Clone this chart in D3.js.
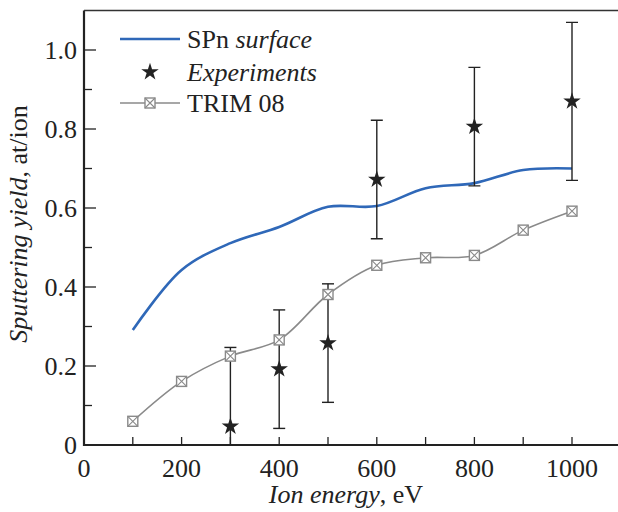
<!DOCTYPE html>
<html>
<head>
<meta charset="utf-8">
<script src="https://cdn.jsdelivr.net/npm/d3@7"></script>
<style>
  body { margin: 0; background: #fff; }
  svg { display: block; }
  text { font-family: "Liberation Serif", "Times New Roman", Times, "DejaVu Serif", serif; }
</style>
</head>
<body>
<div id="main"></div>
<script>
"use strict";

// values
var energies = [100, 200, 300, 400, 500, 600, 700, 800, 900, 1000];
var spnSurface = [0.291, 0.443, 0.511, 0.552, 0.603, 0.605, 0.650, 0.663, 0.696, 0.700];
var trim08 = [0.060, 0.161, 0.225, 0.266, 0.381, 0.455, 0.474, 0.480, 0.544, 0.592];

var expEnergy = [300, 400, 500, 600, 800, 1000];
var expYield = [0.047, 0.192, 0.258, 0.672, 0.806, 0.870];
var expErr = [0.200, 0.150, 0.150, 0.150, 0.150, 0.200];

var xTicks = [0, 200, 400, 600, 800, 1000];
var yTicks = [0, 0.2, 0.4, 0.6, 0.8, 1.0];

var W = 618, H = 512;
var FONT = "'Liberation Serif', 'Times New Roman', Times, 'DejaVu Serif', serif";
var svg = d3.select("#main").append("svg").attr("width", W).attr("height", H)
  .attr("font-family", FONT);

var x = d3.scaleLinear().domain([0, 1100]).range([84, 620.8]);
var y = d3.scaleLinear().domain([0, 1.1]).range([445, 10.5]);

svg.append("clipPath").attr("id", "plotclip")
  .append("rect").attr("x", 84).attr("y", 10.5).attr("width", 540).attr("height", 434.5);

// ticks, pointing inward
var minorX = d3.range(100, 1100, 100);
var minorY = d3.range(0.1, 1.1, 0.1);

var xAxis = svg.append("g").attr("transform", "translate(0," + y(0) + ")");
xAxis.selectAll("line").data(minorX).join("line")
  .attr("x1", d => x(d)).attr("x2", d => x(d)).attr("y1", 0).attr("y2", -8)
  .attr("stroke", "#222").attr("stroke-width", 1.3);
xAxis.selectAll("text").data(xTicks).join("text")
  .attr("x", d => x(d)).attr("y", 32)
  .attr("text-anchor", "middle").attr("font-size", 26).attr("fill", "#222")
  .attr("font-family", FONT)
  .text(d => d);

var yAxis = svg.append("g").attr("transform", "translate(" + x(0) + ",0)");
yAxis.selectAll("line").data(minorY).join("line")
  .attr("x1", 0).attr("x2", d => (Math.round(d * 10) % 2 === 0 ? 12 : 8))
  .attr("y1", d => y(d)).attr("y2", d => y(d))
  .attr("stroke", "#222").attr("stroke-width", 1.3);
yAxis.selectAll("text").data(yTicks).join("text")
  .attr("x", -7).attr("y", d => y(d) + 9)
  .attr("text-anchor", "end").attr("font-size", 26).attr("fill", "#222")
  .attr("font-family", FONT)
  .text(d => d === 0 ? "0" : d3.format(".1f")(d));

// frame: left, bottom, top
svg.append("path")
  .attr("d", "M" + x(0) + "," + y(1.1) + "V" + y(0) + "H" + W)
  .attr("fill", "none").attr("stroke", "#222").attr("stroke-width", 2.2);
svg.append("line")
  .attr("x1", x(0)).attr("x2", W).attr("y1", y(1.1)).attr("y2", y(1.1))
  .attr("stroke", "#333").attr("stroke-width", 1.6);

var plot = svg.append("g").attr("clip-path", "url(#plotclip)");

var line = d3.line()
  .x(d => x(d[0])).y(d => y(d[1]))
  .curve(d3.curveCatmullRom.alpha(0.5));

// TRIM 08
plot.append("path")
  .datum(energies.map((e, i) => [e, trim08[i]]))
  .attr("d", line).attr("fill", "none")
  .attr("stroke", "#8a8a8a").attr("stroke-width", 1.6);

// SPn surface
plot.append("path")
  .datum(energies.map((e, i) => [e, spnSurface[i]]))
  .attr("d", line).attr("fill", "none")
  .attr("stroke", "#2f68b8").attr("stroke-width", 2.6);

function boxMarker(g, cx, cy) {
  var s = 5;
  g.append("rect").attr("x", cx - s).attr("y", cy - s).attr("width", 2 * s).attr("height", 2 * s)
    .attr("fill", "#fff").attr("stroke", "#8a8a8a").attr("stroke-width", 1.4);
  g.append("path")
    .attr("d", "M" + (cx - s) + "," + (cy - s) + "L" + (cx + s) + "," + (cy + s) +
               "M" + (cx + s) + "," + (cy - s) + "L" + (cx - s) + "," + (cy + s))
    .attr("stroke", "#8a8a8a").attr("stroke-width", 1.1);
}

// error bars
var eb = plot.append("g").attr("stroke", "#222").attr("stroke-width", 1.4);
expEnergy.forEach(function (e, i) {
  var lo = expYield[i] - expErr[i], hi = expYield[i] + expErr[i];
  eb.append("line").attr("x1", x(e)).attr("x2", x(e)).attr("y1", y(Math.max(lo, 0))).attr("y2", y(hi));
  eb.append("line").attr("x1", x(e) - 6).attr("x2", x(e) + 6).attr("y1", y(hi)).attr("y2", y(hi));
  if (lo > 0) eb.append("line").attr("x1", x(e) - 6).attr("x2", x(e) + 6).attr("y1", y(lo)).attr("y2", y(lo));
});

var marks = plot.append("g");
energies.forEach(function (e, i) { boxMarker(marks, x(e), y(trim08[i])); });

var star = d3.symbol().type(d3.symbolStar).size(95);
plot.selectAll("path.star").data(expEnergy).join("path")
  .attr("class", "star")
  .attr("transform", (d, i) => "translate(" + x(d) + "," + y(expYield[i]) + ")")
  .attr("d", star).attr("fill", "#222");

// legend
var lg = svg.append("g");
lg.append("line").attr("x1", 120).attr("x2", 180).attr("y1", 39).attr("y2", 39)
  .attr("stroke", "#2f68b8").attr("stroke-width", 2.6);
lg.append("text").attr("x", 187).attr("y", 48).attr("font-size", 26).attr("fill", "#222")
  .attr("font-family", FONT)
  .call(t => {
    t.append("tspan").text("SPn ");
    t.append("tspan").attr("font-style", "italic").text("surface");
  });
lg.append("path").attr("transform", "translate(150,72)").attr("d", star).attr("fill", "#222");
lg.append("text").attr("x", 187).attr("y", 81).attr("font-size", 26).attr("font-style", "italic")
  .attr("font-family", FONT)
  .attr("fill", "#222").text("Experiments");
lg.append("line").attr("x1", 120).attr("x2", 180).attr("y1", 103).attr("y2", 103)
  .attr("stroke", "#8a8a8a").attr("stroke-width", 1.6);
boxMarker(lg, 150, 103);
lg.append("text").attr("x", 187).attr("y", 112).attr("font-size", 26).attr("fill", "#222")
  .attr("font-family", FONT)
  .text("TRIM 08");

// axis titles
svg.append("text").attr("x", 346).attr("y", 503).attr("text-anchor", "middle")
  .attr("font-size", 26).attr("fill", "#222").attr("font-family", FONT)
  .call(t => {
    t.append("tspan").attr("font-style", "italic").text("Ion energy");
    t.append("tspan").text(", eV");
  });
svg.append("text")
  .attr("transform", "translate(27,224) rotate(-90)")
  .attr("text-anchor", "middle").attr("font-size", 26).attr("fill", "#222")
  .attr("font-family", FONT)
  .call(t => {
    t.append("tspan").attr("font-style", "italic").text("Sputtering yield");
    t.append("tspan").text(", at/ion");
  });
</script>
</body>
</html>
